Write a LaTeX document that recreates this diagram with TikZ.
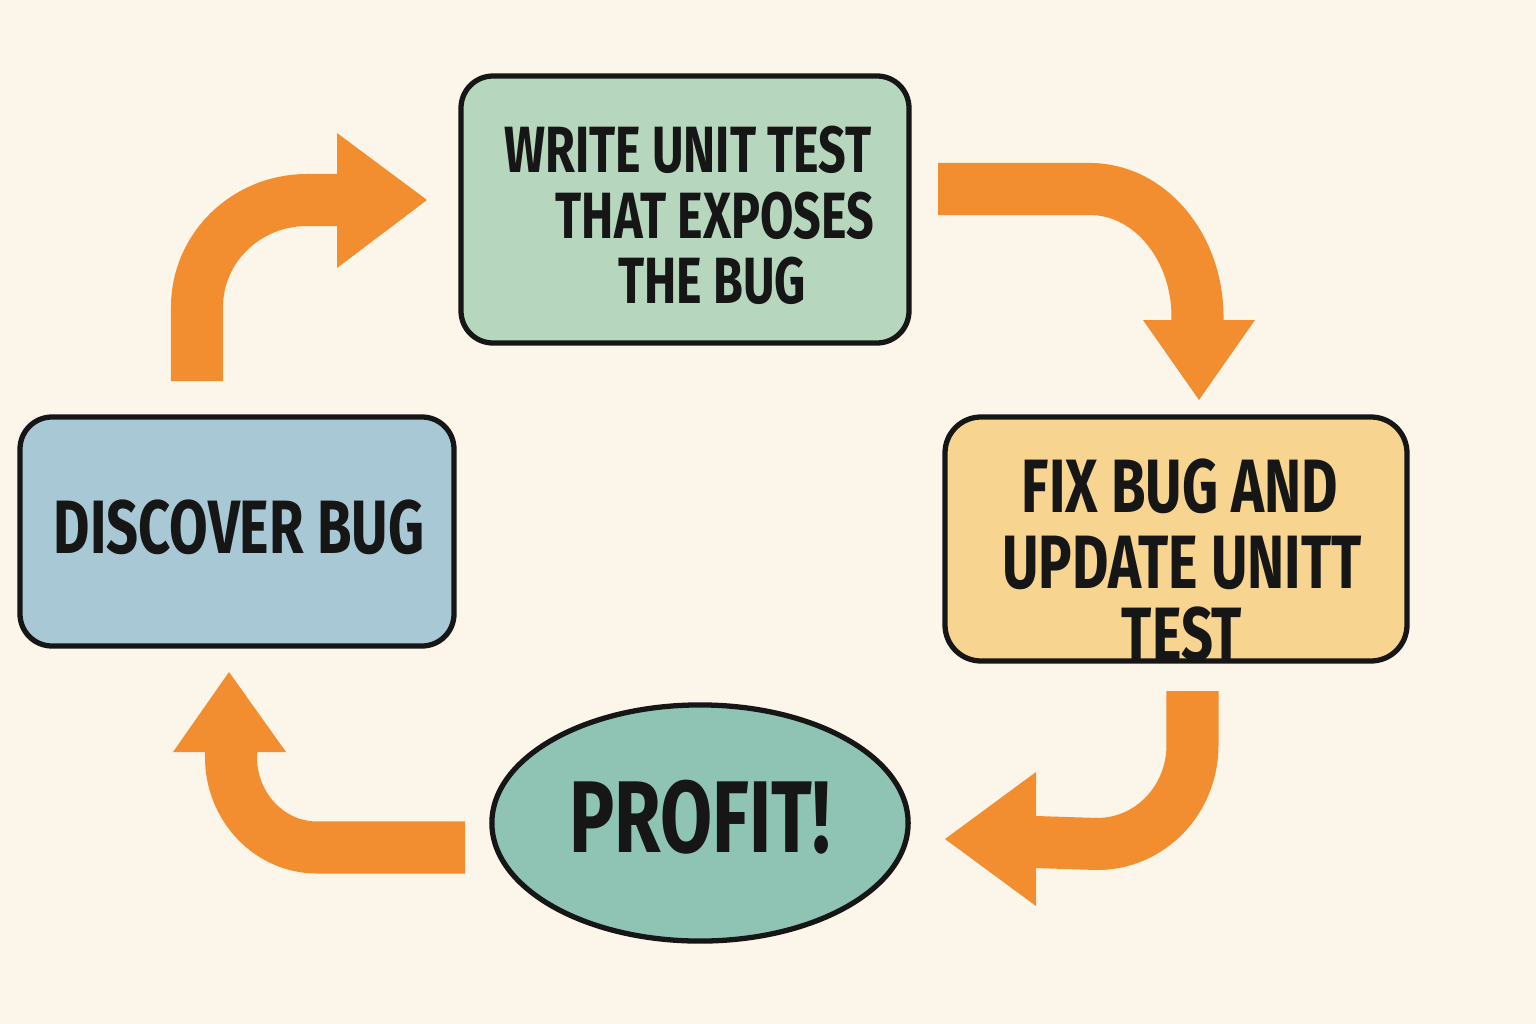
\documentclass[tikz,border=0pt]{standalone}
\usepackage{fontspec}
\setmainfont{Fira Sans}
\newfontfamily\labelfont[FakeStretch=0.74]{Fira Sans Bold}
\usetikzlibrary{shapes.geometric}

\definecolor{paper}{RGB}{251,245,234}
\definecolor{ink}{RGB}{22,22,22}
\definecolor{testgreen}{RGB}{182,214,190}
\definecolor{bugblue}{RGB}{168,200,214}
\definecolor{fixsand}{RGB}{247,212,143}
\definecolor{profitteal}{RGB}{143,196,180}
\definecolor{flow}{RGB}{242,142,48}

\tikzset{
  stage/.style={draw=ink, line width=1.5pt, rounded corners=0.32cm},
  lbl/.style={anchor=base, inner sep=0pt, text=ink, font=\labelfont},
  shaft/.style={draw=flow, line width=0.52cm, line cap=butt},
  head/.style={fill=flow, draw=none},
}

\begin{document}
\begin{tikzpicture}[x=0.01cm, y=-0.01cm]
  % canvas
  \fill[paper] (0,0) rectangle (1536,1024);
  \useasboundingbox (0,0) rectangle (1536,1024);

  % stages
  \draw[stage, fill=testgreen] (461,76) rectangle (909,343);
  \node[inner sep=0pt] (write) at (685,210) {};
  \draw[stage, fill=bugblue] (20,417) rectangle (454,646);
  \node[inner sep=0pt] (discover) at (237,531) {};
  \draw[stage, fill=fixsand, rounded corners=0.36cm] (945,417) rectangle (1407,661);
  \node[inner sep=0pt] (fix) at (1176,539) {};
  \node[draw=ink, line width=1.5pt, fill=profitteal, ellipse,
        minimum width=4.16cm, minimum height=2.36cm] (profit) at (700,823) {};

  % labels
  \node[lbl, font=\labelfont\fontsize{18.6pt}{20pt}\selectfont] (w1) at (688,172) {WRITE UNIT TEST};
  \node[lbl, font=\labelfont\fontsize{18.6pt}{20pt}\selectfont] (w2) at (715,238) {THAT EXPOSES};
  \node[lbl, font=\labelfont\fontsize{18.6pt}{20pt}\selectfont] (w3) at (712,303) {THE BUG};
  \node[lbl, font=\labelfont\fontsize{21.5pt}{23pt}\selectfont] (d1) at (239,553) {DISCOVER BUG};
  \node[lbl, font=\labelfont\fontsize{21.5pt}{23pt}\selectfont] (f1) at (1180,512) {FIX BUG AND};
  \node[lbl, font=\labelfont\fontsize{21.5pt}{23pt}\selectfont] (f2) at (1182,588) {UPDATE UNITT};
  \node[lbl, font=\labelfont\fontsize{21.5pt}{23pt}\selectfont] (f3) at (1182,660) {TEST};
  \node[lbl, font=\labelfont\fontsize{29pt}{31pt}\selectfont] (p1) at (700,852) {PROFIT!};

  % connector end points
  \coordinate (a1s) at (197,381);  \coordinate (a1e) at (337,200);
  \coordinate (a2s) at (938,189);  \coordinate (a2e) at (1197.5,321);
  \coordinate (a3s) at (1192.5,691); \coordinate (a3e) at (1035,842);
  \coordinate (a4s) at (465,847.5); \coordinate (a4e) at (231,751);

  % discover -> write
  \draw[shaft] (a1s) -- (197,307) .. controls (197,248) and (246,200) .. (307,200) -- (a1e);
  \fill[head] (337,133) -- (427,200) -- (337,268) -- cycle;
  % write -> fix
  \draw[shaft] (a2s) -- (1090,189) .. controls (1149,189) and (1197.5,246) .. (1197.5,317) -- (a2e);
  \fill[head] (1143,320) -- (1255,320) -- (1199,400) -- cycle;
  % fix -> profit
  \draw[shaft] (a3s) -- (1192.5,745) .. controls (1192.5,800) and (1150,844) .. (1097,844) -- (a3e);
  \fill[head] (1036,772) -- (945,839) -- (1036,906) -- cycle;
  % profit -> discover
  \draw[shaft] (a4s) -- (317,847.5) .. controls (269.5,847.5) and (231,807) .. (231,757) -- (a4e);
  \fill[head] (173,752) -- (229,672) -- (286,752) -- cycle;
\end{tikzpicture}
\end{document}
